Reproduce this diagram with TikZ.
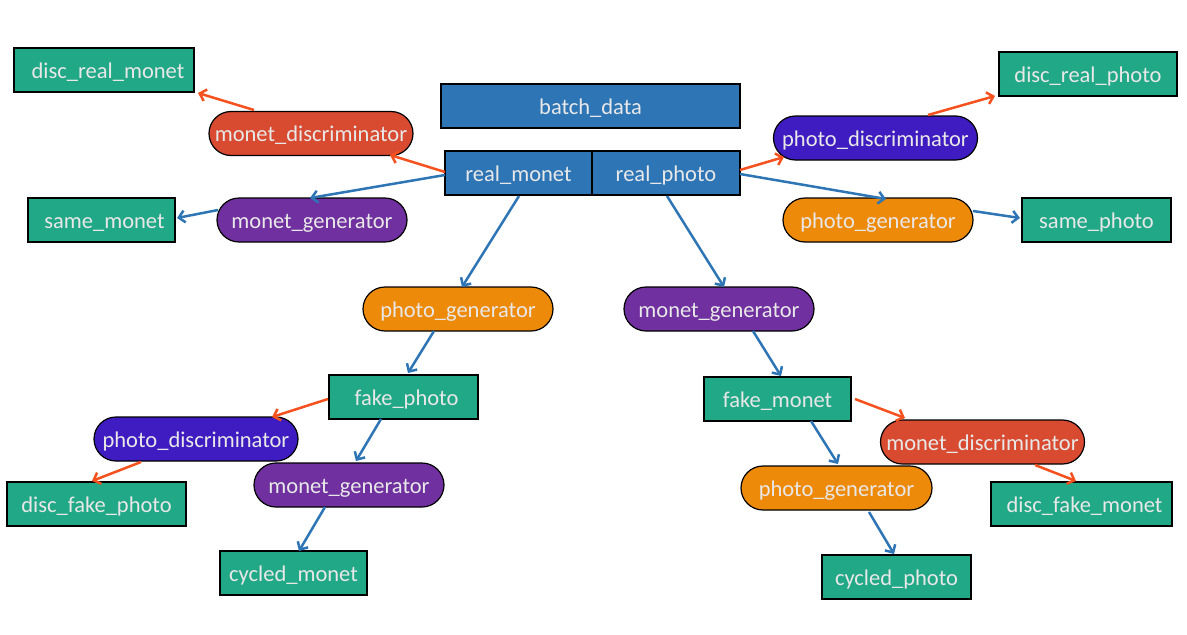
\documentclass[tikz,border=0pt]{standalone}
\usepackage{fontspec}
\setmainfont{Carlito}
\usetikzlibrary{arrows.meta,calc}
\definecolor{gbox}{HTML}{21A886}
\definecolor{bbox}{HTML}{2E75B6}
\definecolor{rbox}{HTML}{D94B30}
\definecolor{pbox}{HTML}{7030A0}
\definecolor{vbox}{HTML}{3F1CC2}
\definecolor{obox}{HTML}{EE8A0A}
\definecolor{txt}{HTML}{E8E8E8}
\definecolor{oline}{HTML}{F4511E}
\definecolor{bline}{HTML}{2E75B6}
\tikzset{
  base/.style={draw=black,line width=1.2pt,text=txt,inner sep=0pt,minimum height=44pt,
    text height=20pt,text depth=3.5pt,font=\fontsize{22.5}{27}\selectfont},
  gnode/.style={base,fill=gbox},
  bnode/.style={base,fill=bbox},
  pill/.style={base,rounded corners=22pt,minimum width=190pt},
  rpill/.style={pill,fill=rbox,minimum width=204pt},
  vpill/.style={pill,fill=vbox,minimum width=204pt},
  ppill/.style={pill,fill=pbox},
  opill/.style={pill,fill=obox},
  oarr/.style={draw=oline,line width=2.5pt,-{Straight Barb[length=6pt,width=12pt,line width=2.5pt]}},
  barr/.style={draw=bline,line width=2.5pt,-{Straight Barb[length=6pt,width=12pt,line width=2.5pt]}},
}
\begin{document}
\begin{tikzpicture}[x=1pt,y=-1pt]
\useasboundingbox (0,0) rectangle (1187,635);
% boxes
\node[gnode,minimum width=180pt] (drm) at (104,70) {\hspace{8pt}disc\_real\_monet};
\node[rpill] (md1) at (311,133.5) {monet\_discriminator};
\node[bnode,minimum width=299pt] (bd) at (590.5,106) {batch\_data};
\node[bnode,minimum width=147pt] (rm) at (518.5,173) {real\_monet};
\node[bnode,minimum width=148pt] (rp) at (666,173) {real\_photo};
\node[gnode,minimum width=147pt] (sm) at (101.5,220) {\hspace{6pt}same\_monet};
\node[ppill] (mg1) at (312,220) {monet\_generator};
\node[gnode,minimum width=178pt] (drp) at (1088,74) {disc\_real\_photo};
\node[vpill] (pd1) at (875.5,138) {photo\_discriminator};
\node[opill] (pg1) at (878,220) {photo\_generator};
\node[gnode,minimum width=149pt] (sp) at (1096.5,220) {same\_photo};
\node[opill] (pg2) at (458,309) {photo\_generator};
\node[ppill] (mg2) at (719,309) {monet\_generator};
\node[gnode,minimum width=149pt] (fp) at (403.5,397) {\hspace{6pt}fake\_photo};
\node[vpill] (pd2) at (196,439) {photo\_discriminator};
\node[ppill] (mg3) at (349,485) {monet\_generator};
\node[gnode,minimum width=179pt] (dfp) at (96.5,504) {disc\_fake\_photo};
\node[gnode,minimum width=147pt] (cm) at (293.5,573) {cycled\_monet};
\node[gnode,minimum width=147pt] (fm) at (777.5,399) {fake\_monet};
\node[rpill] (md2) at (982.5,442) {monet\_discriminator};
\node[opill,minimum width=191pt] (pg3) at (836.5,488) {photo\_generator};
\node[gnode,minimum width=181pt] (dfm) at (1081.5,504) {\hspace{6pt}disc\_fake\_monet};
\node[gnode,minimum width=149pt] (cp) at (896.5,577) {cycled\_photo};
% orange arrows
\draw[oarr] ($(md1)+(-57,-23.5)$) -- ($(drm)+(94,23)$);
\draw[oarr] ($(rm)+(-73.5,-1)$) -- ($(md1)+(79,21.5)$);
\draw[oarr] ($(rp)+(74,-3)$) -- ($(pd1)+(-91.5,19)$);
\draw[oarr] ($(pd1)+(52.5,-23)$) -- ($(drp)+(-93,22)$);
\draw[oarr] ($(fp)+(-75.5,2)$) -- ($(pd2)+(76,-22)$);
\draw[oarr] ($(pd2)+(-55,23)$) -- ($(dfp)+(-4.5,-23)$);
\draw[oarr] ($(fm)+(77.5,0)$) -- ($(md2)+(-77.5,-24)$);
\draw[oarr] ($(md2)+(52.5,23)$) -- ($(dfm)+(-5.5,-23)$);
% blue arrows
\draw[barr] ($(rm)+(-73.5,2)$) -- ($(mg1)+(-2,-22)$);
\draw[barr] ($(mg1)+(-94,-10)$) -- ($(sm)+(75.5,-2)$);
\draw[barr] ($(rp)+(74,1)$) -- ($(pg1)+(8,-21)$);
\draw[barr] ($(pg1)+(95,-9)$) -- ($(sp)+(-76.5,-2)$);
\draw[barr] ($(rm)+(0.5,23)$) -- ($(pg2)+(4,-22)$);
\draw[barr] ($(rp)+(1,23)$) -- ($(mg2)+(5,-22)$);
\draw[barr] ($(pg2)+(-24,22)$) -- ($(fp)+(4.5,-24)$);
\draw[barr] ($(fp)+(-22.5,22)$) -- ($(mg3)+(7,-24)$);
\draw[barr] ($(mg3)+(-24,22)$) -- ($(cm)+(5.5,-22)$);
\draw[barr] ($(mg2)+(34,22)$) -- ($(fm)+(3.5,-23)$);
\draw[barr] ($(fm)+(33.5,22)$) -- ($(pg3)+(1.5,-24)$);
\draw[barr] ($(pg3)+(32.5,24)$) -- ($(cp)+(-2.5,-23)$);
\end{tikzpicture}
\end{document}
